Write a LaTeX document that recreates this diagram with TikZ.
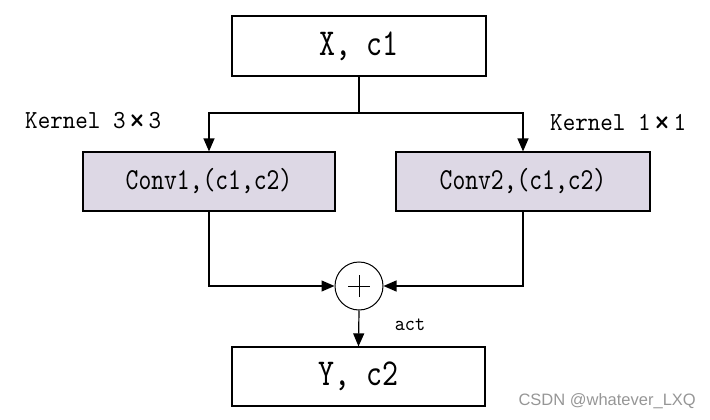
\documentclass[tikz,border=0pt]{standalone}
\usepackage{fontspec}
\usetikzlibrary{arrows.meta}
\newfontfamily\convfont[Extension=.otf, FakeStretch=0.8]{lmmono10-regular}
\newfontfamily\kernfont[Extension=.otf, FakeStretch=0.92]{lmmono10-regular}
\newfontfamily\wmfont{Liberation Sans}
\definecolor{convfill}{RGB}{221,216,229}
\definecolor{wmgray}{RGB}{150,150,150}
\newcommand\bigtimes{{\kern3pt\raisebox{-2.6pt}{\fontsize{35}{35}\selectfont ×}\kern3pt}}
\tikzset{
  box/.style={draw=black, line width=1.2pt, rectangle, inner sep=0pt, minimum width=254pt, minimum height=60pt, font=\convfont\fontsize{38}{44}\selectfont},
  convbox/.style={box, fill=convfill, font=\convfont\fontsize{30.5}{36}\selectfont},
  conn/.style={line width=1.2pt, -{Triangle[length=13pt,width=11pt]}},
  lbl/.style={inner sep=0pt, font=\kernfont\fontsize{26}{30}\selectfont},
}
\begin{document}
\begin{tikzpicture}[x=1pt,y=-1pt]
\useasboundingbox (0,0) rectangle (710,420);
\node[box] (x) at (359,46) {X, c1};
\node[convbox, minimum width=252pt, minimum height=59pt] (c1) at (209,181.5) {Conv1,(c1,c2)};
\node[convbox, minimum height=59pt] (c2) at (523,181.5) {Conv2,(c1,c2)};
\node[circle, draw=black, line width=1pt, minimum size=48pt, inner sep=0pt,
  path picture={\draw[line width=1pt] ([xshift=-11pt]path picture bounding box.center) -- ([xshift=11pt]path picture bounding box.center);
                \draw[line width=1pt] ([yshift=-11pt]path picture bounding box.center) -- ([yshift=11pt]path picture bounding box.center);}] (plus) at (359,286) {};
\node[box, minimum width=253pt, minimum height=59pt] (y) at (358.5,376.5) {Y, c2};
\coordinate (split) at (359,113);
\draw[line width=1.2pt] (x.south) -- (split);
\draw[conn] (split) -| (c1.north);
\draw[conn] (split) -| (c2.north);
\draw[conn] (c1.south) |- (plus.west);
\draw[conn] (c2.south) |- (plus.east);
\draw[conn] (plus.south) -- (y.north);
\node[lbl, anchor=west] (k1) at (25,122) {Kernel 3\bigtimes 3};
\node[lbl, anchor=west] (k2) at (550,124) {Kernel 1\bigtimes 1};
\node[inner sep=0pt, font=\kernfont\fontsize{21}{24}\selectfont] (act) at (410,325) {act};
\node[inner sep=0pt, anchor=east, text=wmgray, font=\wmfont\fontsize{16.5}{18}\selectfont] (wm) at (696,401) {CSDN @whatever\_LXQ};
\end{tikzpicture}
\end{document}
